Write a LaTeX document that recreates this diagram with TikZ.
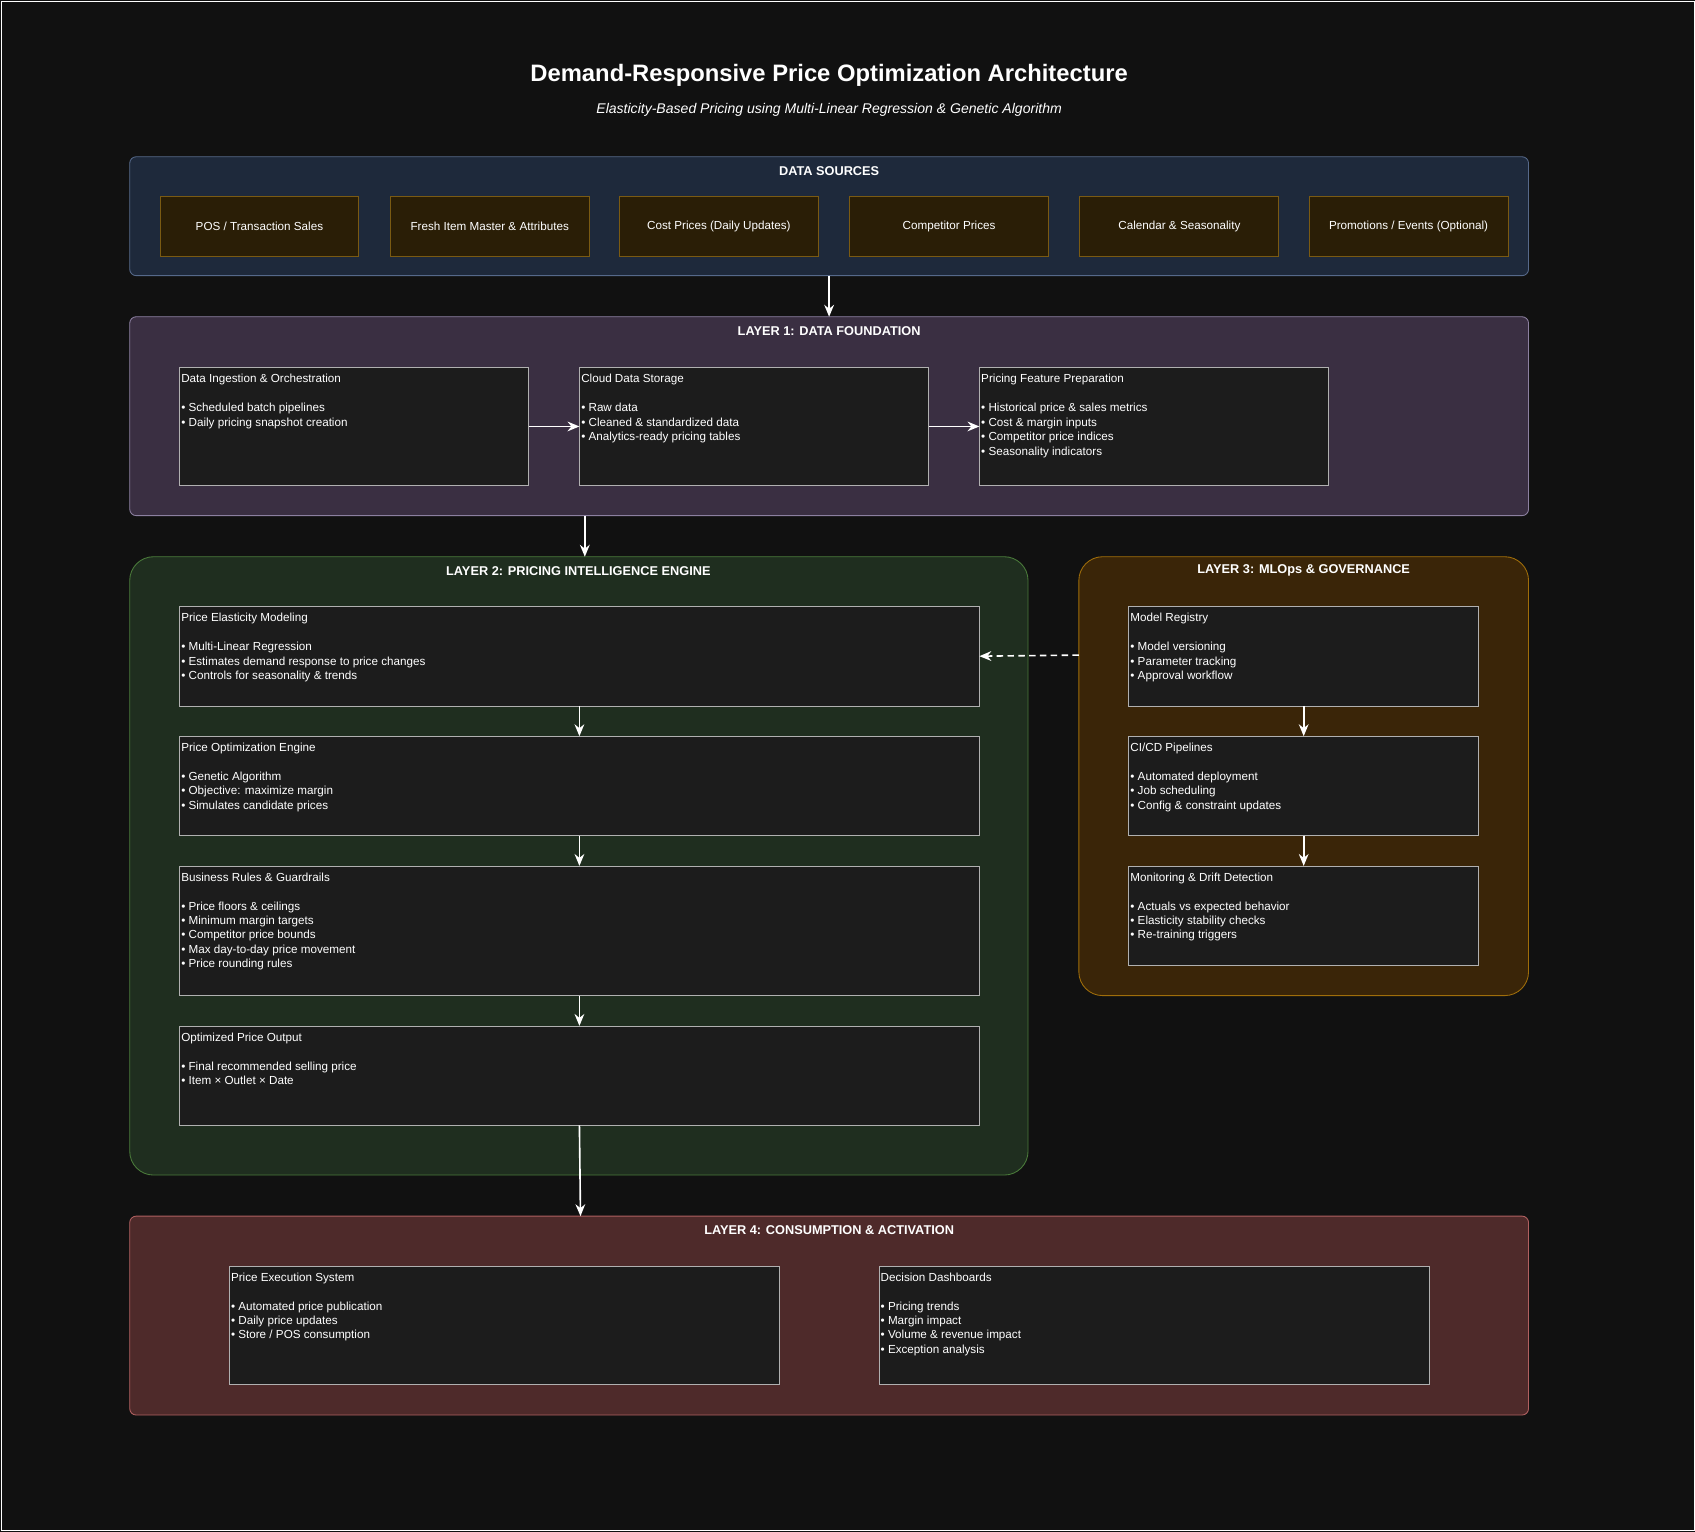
\documentclass[tikz,border=0pt]{standalone}
\usepackage{fontspec}
\setmainfont{Liberation Sans}
\usetikzlibrary{arrows.meta}
\definecolor{bg}{HTML}{111111}
\definecolor{dsfill}{HTML}{1E293B}\definecolor{dsline}{HTML}{56698A}
\definecolor{srcfill}{HTML}{2A1E06}\definecolor{srcline}{HTML}{7A5A12}
\definecolor{l1fill}{HTML}{3A2F42}\definecolor{l1line}{HTML}{8C80A0}
\definecolor{l2fill}{HTML}{1F2E1F}\definecolor{l2line}{HTML}{4A7A3A}
\definecolor{l3fill}{HTML}{3A2508}\definecolor{l3line}{HTML}{A06E0A}
\definecolor{l4fill}{HTML}{4E2A2A}\definecolor{l4line}{HTML}{B06060}
\definecolor{boxfill}{HTML}{1C1C1C}\definecolor{boxline}{HTML}{B0B0B0}
\tikzset{
 cont/.style={draw=#1line, fill=#1fill, rounded corners=6pt, line width=0.8pt},
 ctitle/.style={text=white, font=\fontsize{11.8}{13}\selectfont\bfseries},
 srcbox/.style={draw=srcline, fill=srcfill, line width=0.8pt},
 srctext/.style={text=white, font=\fontsize{10.8}{12}\selectfont},
 ibox/.style={draw=boxline, fill=boxfill, line width=0.6pt},
 itext/.style={text=white, font=\fontsize{10.8}{13.4}\selectfont, anchor=north west, inner sep=0pt, align=left},
 arr/.style={draw=white, line width=1.5pt, -{Stealth[length=11pt,width=9pt]}},
}
\newcommand{\ibx}[6]{% name x1 y1 x2 y2 text
 \draw[ibox] (#2,#3) rectangle (#4,#5);
 \coordinate (#1-n) at ({(#2+#4)/2},#3);
 \coordinate (#1-s) at ({(#2+#4)/2},#5);
 \coordinate (#1-w) at (#2,{(#3+#5)/2});
 \coordinate (#1-e) at (#4,{(#3+#5)/2});
 \node[itext] (#1) at (#2+1.5,#3+6) {#6};}
\begin{document}
\begin{tikzpicture}[x=1pt,y=-1pt]
\useasboundingbox (0,0) rectangle (1568,1417);
\fill[bg] (0,0) rectangle (1568,1417);
\draw[white!60, line width=0.6pt] (1,1) rectangle (1567,1416);
\node[text=white, font=\fontsize{22}{24}\selectfont\bfseries] (title) at (767,70) {Demand-Responsive Price Optimization Architecture};
\node[text=white, font=\fontsize{13}{14}\selectfont\itshape] (sub) at (767,102) {Elasticity-Based Pricing using Multi-Linear Regression \& Genetic Algorithm};
% data sources
\draw[cont=ds] (120,145) rectangle (1414,255);
\coordinate (ds-s) at (767,255);
\node[ctitle] (dst) at (767,158) {DATA SOURCES};
\foreach \x/\t [count=\i] in {148/{POS / Transaction Sales}, 361/{Fresh Item Master \& Attributes}, 573/{Cost Prices (Daily Updates)}, 786/{Competitor Prices}, 999/{Calendar \& Seasonality}, 1211/{Promotions / Events (Optional)}}{
 \draw[srcbox] (\x,182) rectangle (\x+184,237);
 \node[srctext] (src\i) at (\x+92,209.5) {\t};}
% layer 1
\draw[cont=l1] (120,293) rectangle (1414,477);
\coordinate (l1-n) at (767,293); \coordinate (l1-s) at (541,477);
\node[ctitle] (l1t) at (767,306) {LAYER 1: DATA FOUNDATION};
\ibx{ing}{166}{340}{489}{449}{Data Ingestion \& Orchestration\\[13.4pt]• Scheduled batch pipelines\\• Daily pricing snapshot creation}
\ibx{cds}{536}{340}{859}{449}{Cloud Data Storage\\[13.4pt]• Raw data\\• Cleaned \& standardized data\\• Analytics-ready pricing tables}
\ibx{pfp}{906}{340}{1229}{449}{Pricing Feature Preparation\\[13.4pt]• Historical price \& sales metrics\\• Cost \& margin inputs\\• Competitor price indices\\• Seasonality indicators}
% layer 2
\draw[cont=l2, rounded corners=22pt] (120,515) rectangle (951,1087);
\coordinate (l2-n) at (541,515);
\node[ctitle] (l2t) at (535,528) {LAYER 2: PRICING INTELLIGENCE ENGINE};
\ibx{pem}{166}{561}{906}{653}{Price Elasticity Modeling\\[13.4pt]• Multi-Linear Regression\\• Estimates demand response to price changes\\• Controls for seasonality \& trends}
\ibx{poe}{166}{681}{906}{773}{Price Optimization Engine\\[13.4pt]• Genetic Algorithm\\• Objective: maximize margin\\• Simulates candidate prices}
\ibx{brg}{166}{801}{906}{921}{Business Rules \& Guardrails\\[13.4pt]• Price floors \& ceilings\\• Minimum margin targets\\• Competitor price bounds\\• Max day-to-day price movement\\• Price rounding rules}
\ibx{opo}{166}{949}{906}{1041}{Optimized Price Output\\[13.4pt]• Final recommended selling price\\• Item × Outlet × Date}
% layer 3
\draw[cont=l3, rounded corners=22pt] (998,515) rectangle (1414,921);
\coordinate (l3-w) at (998,606);
\node[ctitle] (l3t) at (1206,528) {LAYER 3: MLOps \& GOVERNANCE};
\ibx{mr}{1044}{561}{1368}{653}{Model Registry\\[13.4pt]• Model versioning\\• Parameter tracking\\• Approval workflow}
\ibx{cicd}{1044}{681}{1368}{773}{CI/CD Pipelines\\[13.4pt]• Automated deployment\\• Job scheduling\\• Config \& constraint updates}
\ibx{mon}{1044}{801}{1368}{893}{Monitoring \& Drift Detection\\[13.4pt]• Actuals vs expected behavior\\• Elasticity stability checks\\• Re-training triggers}
% layer 4
\draw[cont=l4] (120,1125) rectangle (1414,1309);
\coordinate (l4-n) at (537,1125);
\node[ctitle] (l4t) at (767,1138) {LAYER 4: CONSUMPTION \& ACTIVATION};
\ibx{pes}{212}{1171}{721}{1281}{Price Execution System\\[13.4pt]• Automated price publication\\• Daily price updates\\• Store / POS consumption}
\ibx{dd}{813}{1171}{1322}{1281}{Decision Dashboards\\[13.4pt]• Pricing trends\\• Margin impact\\• Volume \& revenue impact\\• Exception analysis}
% arrows
\draw[arr] (ds-s) -- (l1-n);
\draw[arr] (ing-e) -- (cds-w);
\draw[arr] (cds-e) -- (pfp-w);
\draw[arr] (l1-s) -- (l2-n);
\draw[arr] (pem-s) -- (poe-n);
\draw[arr] (poe-s) -- (brg-n);
\draw[arr] (brg-s) -- (opo-n);
\draw[arr] (opo-s) -- (l4-n);
\draw[arr] (mr-s) -- (cicd-n);
\draw[arr] (cicd-s) -- (mon-n);
\draw[arr, dash pattern=on 6pt off 4pt] (l3-w) -- (pem-e);
\end{tikzpicture}
\end{document}
